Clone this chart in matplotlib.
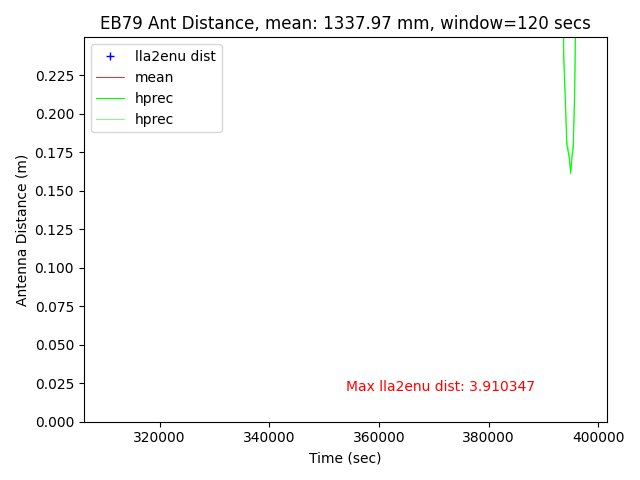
import numpy as np
import matplotlib
matplotlib.use('Agg')
import matplotlib.pyplot as plt
from matplotlib.ticker import MultipleLocator

# data (most of it sits above the visible y range)
lla_t = [310520, 330000, 350000, 370000, 390000, 397200]
lla_dist = [1.31, 1.35, 1.33, 1.34, 1.36, 1.32]
mean_dist = 1.33797

hprec_t = [393300, 393700, 394000, 394250, 394700, 394960, 395200, 395430, 395700, 396000]
hprec_a = [0.40, 0.235, 0.207, 0.180, 0.171, 0.161, 0.172, 0.178, 0.215, 0.30]
hprec_b = [0.40, 0.240, 0.210, 0.183, 0.174, 0.163, 0.174, 0.180, 0.218, 0.31]

fig, ax = plt.subplots(figsize=(6.4, 4.8), dpi=100)
ax.plot(lla_t, lla_dist, 'b+', label='lla2enu dist')
ax.plot([lla_t[0], lla_t[-1]], [mean_dist, mean_dist], 'r-', linewidth=0.6, label='mean')
ax.plot(hprec_t, hprec_a, color='lime', linewidth=0.8, label='hprec')
ax.plot(hprec_t, hprec_b, color='lime', linewidth=0.6, alpha=0.6, label='hprec')

ax.text(354000, 0.02, 'Max lla2enu dist: 3.910347', color='red')
ax.set_xlim(306186, 401533)
ax.set_ylim(0, 0.2495)
ax.yaxis.set_major_locator(MultipleLocator(0.025))
ax.set_title('EB79 Ant Distance, mean: 1337.97 mm, window=120 secs')
ax.set_xlabel('Time (sec)')
ax.set_ylabel('Antenna Distance (m)')
ax.legend(loc='upper left')
plt.tight_layout()
plt.savefig('out.png')
